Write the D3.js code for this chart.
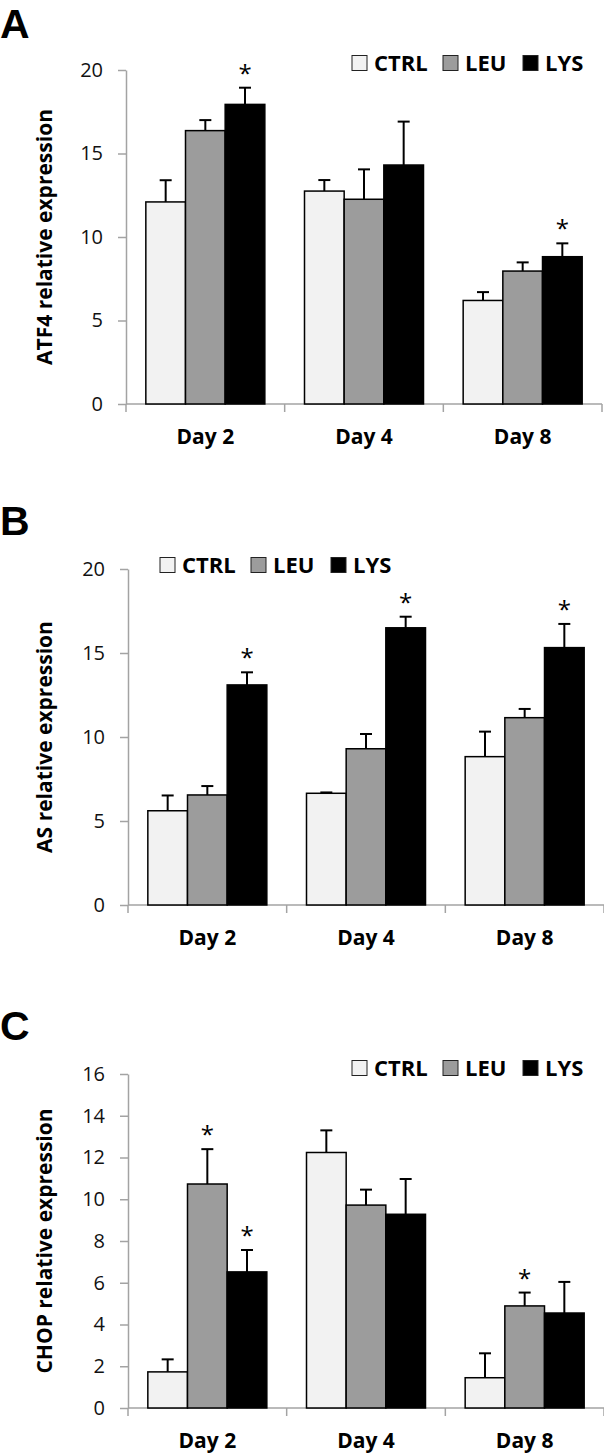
<!DOCTYPE html>
<html>
<head>
<meta charset="utf-8">
<script src="https://cdn.jsdelivr.net/npm/d3@7"></script>
<style>
  html, body { margin: 0; padding: 0; background: #fff; }
  svg { display: block; }
</style>
</head>
<body>
<svg id="chart" width="604" height="1454"></svg>
<script>
// ---------- DATA ----------
const categories = ["Day 2", "Day 4", "Day 8"];
const series = ["CTRL", "LEU", "LYS"];
const seriesColors = ["#f2f2f2", "#9c9c9c", "#000000"];

// Panel A: ATF4
const atf4Ticks = [0, 5, 10, 15, 20];
const atf4_CTRL = [12.1, 12.75, 6.2];
const atf4_LEU  = [16.37, 12.26, 7.96];
const atf4_LYS  = [17.94, 14.31, 8.82];
const atf4_CTRL_err = [1.3, 0.66, 0.5];
const atf4_LEU_err  = [0.63, 1.79, 0.52];
const atf4_LYS_err  = [1.0, 2.6, 0.8];
const atf4_sig_CTRL = [0, 0, 0];
const atf4_sig_LEU  = [0, 0, 0];
const atf4_sig_LYS  = [1, 0, 1];

// Panel B: AS
const asTicks = [0, 5, 10, 15, 20];
const as_CTRL = [5.61, 6.65, 8.83];
const as_LEU  = [6.55, 9.3, 11.15];
const as_LYS  = [13.1, 16.5, 15.32];
const as_CTRL_err = [0.91, 0.05, 1.49];
const as_LEU_err  = [0.53, 0.88, 0.52];
const as_LYS_err  = [0.75, 0.66, 1.41];
const as_sig_CTRL = [0, 0, 0];
const as_sig_LEU  = [0, 0, 0];
const as_sig_LYS  = [1, 1, 1];

// Panel C: CHOP
const chopTicks = [0, 2, 4, 6, 8, 10, 12, 14, 16];
const chop_CTRL = [1.73, 12.24, 1.45];
const chop_LEU  = [10.73, 9.72, 4.89];
const chop_LYS  = [6.52, 9.28, 4.55];
const chop_CTRL_err = [0.6, 1.06, 1.17];
const chop_LEU_err  = [1.67, 0.74, 0.64];
const chop_LYS_err  = [1.05, 1.69, 1.49];
const chop_sig_CTRL = [0, 0, 0];
const chop_sig_LEU  = [1, 0, 1];
const chop_sig_LYS  = [1, 0, 0];

// ---------- DRAW ----------
const svg = d3.select("#chart");
const FONT = "'Open Sans', 'DejaVu Sans', sans-serif";
const AXIS_COLOR = "#a3a3a3";

function drawPanel(cfg) {
  const g = svg.append("g");
  const means = [cfg.m[0], cfg.m[1], cfg.m[2]];
  const errs = [cfg.e[0], cfg.e[1], cfg.e[2]];
  const sigs = [cfg.s[0], cfg.s[1], cfg.s[2]];

  const x0 = d3.scaleBand().domain(categories).range([cfg.left, cfg.right]).padding(0);
  const x1 = d3.scaleBand().domain(series).range([0, x0.bandwidth()]).paddingInner(0).paddingOuter(0.5);
  const y = d3.scaleLinear().domain([0, cfg.max]).range([cfg.bottom, cfg.top]);

  // panel letter
  g.append("text").attr("x", 0).attr("y", cfg.letterY)
    .attr("font-family", "'Liberation Sans', Arial, sans-serif")
    .attr("font-weight", "bold").attr("font-size", 41).text(cfg.letter);

  // y axis
  const yAxis = d3.axisLeft(y).tickValues(cfg.ticks).tickSize(8).tickSizeOuter(0).tickPadding(15);
  const ya = g.append("g").attr("transform", `translate(${cfg.left},0)`).call(yAxis);
  ya.select(".domain").attr("stroke", AXIS_COLOR).attr("stroke-width", 1.5);
  ya.selectAll(".tick line").attr("stroke", AXIS_COLOR).attr("stroke-width", 1.5);
  ya.selectAll(".tick text").attr("font-family", FONT).attr("font-size", 20).attr("fill", "#111");

  // x axis line and boundary ticks
  g.append("line").attr("x1", cfg.left).attr("x2", cfg.right)
    .attr("y1", y(0)).attr("y2", y(0)).attr("stroke", AXIS_COLOR).attr("stroke-width", 1.5);
  const bounds = categories.map(c => x0(c)).concat([cfg.right]);
  g.selectAll(".xt").data(bounds).enter().append("line")
    .attr("x1", d => d).attr("x2", d => d)
    .attr("y1", y(0)).attr("y2", y(0) + 8)
    .attr("stroke", AXIS_COLOR).attr("stroke-width", 1.5);
  g.selectAll(".xl").data(categories).enter().append("text")
    .attr("x", d => x0(d) + x0.bandwidth() / 2).attr("y", y(0) + 40)
    .attr("text-anchor", "middle").attr("font-family", FONT)
    .attr("font-weight", "bold").attr("font-size", 21).text(d => d);

  // y label
  g.append("text")
    .attr("transform", `translate(52,${(cfg.top + cfg.bottom) / 2}) rotate(-90)`)
    .attr("text-anchor", "middle").attr("font-family", FONT)
    .attr("font-weight", "bold").attr("font-size", 21).text(cfg.ylabel);

  // bars
  const rows = [];
  categories.forEach((c, ci) => series.forEach((s, si) => {
    rows.push({c, s, si, v: means[si][ci], e: errs[si][ci], sig: sigs[si][ci]});
  }));
  const gb = g.append("g");
  gb.selectAll("line.err").data(rows).enter().append("line")
    .attr("x1", d => x0(d.c) + x1(d.s) + x1.bandwidth() / 2)
    .attr("x2", d => x0(d.c) + x1(d.s) + x1.bandwidth() / 2)
    .attr("y1", d => y(d.v)).attr("y2", d => y(d.v + d.e))
    .attr("stroke", "#000").attr("stroke-width", 2);
  gb.selectAll("line.cap").data(rows).enter().append("line")
    .attr("x1", d => x0(d.c) + x1(d.s) + x1.bandwidth() / 2 - 6)
    .attr("x2", d => x0(d.c) + x1(d.s) + x1.bandwidth() / 2 + 6)
    .attr("y1", d => y(d.v + d.e)).attr("y2", d => y(d.v + d.e))
    .attr("stroke", "#000").attr("stroke-width", 2);
  gb.selectAll("rect").data(rows).enter().append("rect")
    .attr("x", d => x0(d.c) + x1(d.s))
    .attr("width", x1.bandwidth())
    .attr("y", d => y(d.v))
    .attr("height", d => y(0) - y(d.v))
    .attr("fill", d => seriesColors[d.si])
    .attr("stroke", "#000").attr("stroke-width", 1.5);

  // significance stars
  gb.selectAll("text.star").data(rows.filter(d => d.sig)).enter().append("text")
    .attr("x", d => x0(d.c) + x1(d.s) + x1.bandwidth() / 2)
    .attr("y", d => y(d.v + d.e) - 6)
    .attr("text-anchor", "middle").attr("font-family", FONT)
    .attr("font-size", 24).text("*");

  // legend
  const lg = g.append("g");
  series.forEach((s, i) => {
    const lx = cfg.legendX[i];
    lg.append("rect").attr("x", lx).attr("y", cfg.legendY - 7.5)
      .attr("width", 15).attr("height", 15)
      .attr("fill", seriesColors[i]).attr("stroke", "#222").attr("stroke-width", 1);
    lg.append("text").attr("x", lx + 22).attr("y", cfg.legendY + 8)
      .attr("font-family", FONT).attr("font-weight", "bold").attr("font-size", 22)
      .text(s);
  });
}

drawPanel({
  letter: "A", letterY: 38, ylabel: "ATF4 relative expression",
  m: [atf4_CTRL, atf4_LEU, atf4_LYS], e: [atf4_CTRL_err, atf4_LEU_err, atf4_LYS_err],
  s: [atf4_sig_CTRL, atf4_sig_LEU, atf4_sig_LYS],
  ticks: atf4Ticks, max: 20, top: 70, bottom: 404, left: 126, right: 602,
  legendX: [352, 443, 523], legendY: 63
});
drawPanel({
  letter: "B", letterY: 535, ylabel: "AS relative expression",
  m: [as_CTRL, as_LEU, as_LYS], e: [as_CTRL_err, as_LEU_err, as_LYS_err],
  s: [as_sig_CTRL, as_sig_LEU, as_sig_LYS],
  ticks: asTicks, max: 20, top: 569, bottom: 905, left: 128, right: 604,
  legendX: [160, 251, 331], legendY: 565
});
drawPanel({
  letter: "C", letterY: 1040, ylabel: "CHOP relative expression",
  m: [chop_CTRL, chop_LEU, chop_LYS], e: [chop_CTRL_err, chop_LEU_err, chop_LYS_err],
  s: [chop_sig_CTRL, chop_sig_LEU, chop_sig_LYS],
  ticks: chopTicks, max: 16, top: 1074, bottom: 1408, left: 128, right: 604,
  legendX: [352, 443, 523], legendY: 1068
});
</script>
</body>
</html>
